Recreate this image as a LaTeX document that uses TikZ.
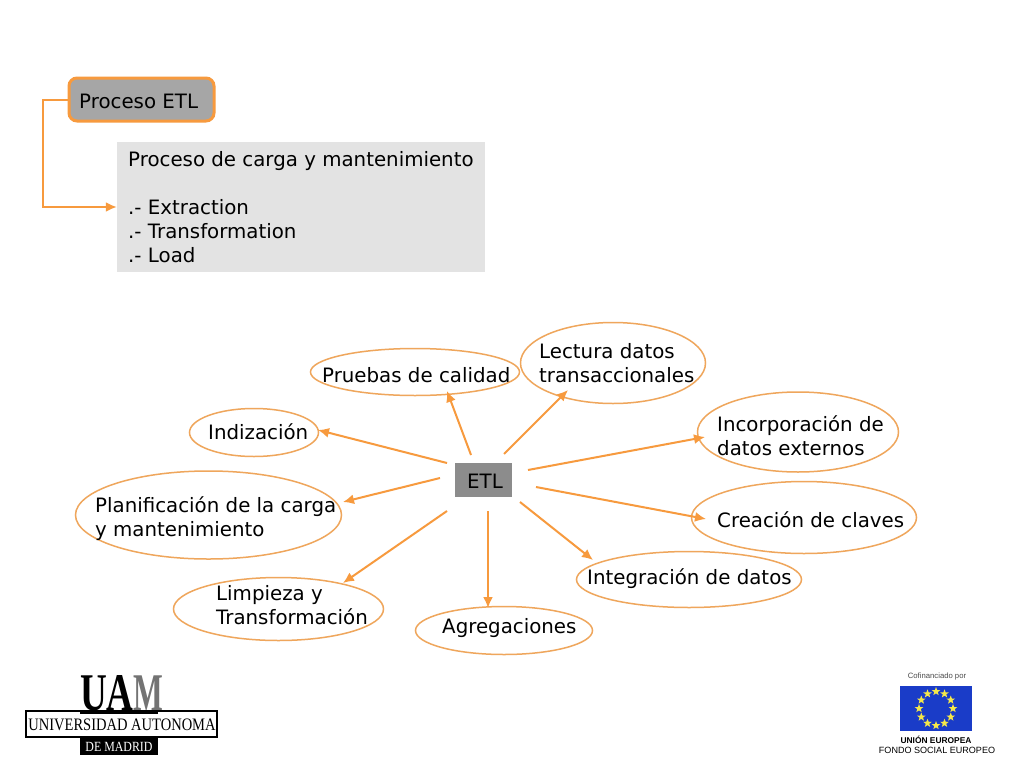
\documentclass[tikz,border=0pt]{standalone}
\usepackage{fontspec}
\setmainfont{DejaVu Sans}
\newfontfamily\logoserif{Liberation Serif}
\newfontfamily\logosans{Liberation Sans}
\usetikzlibrary{shapes.geometric,arrows.meta,calc}
\definecolor{orangeline}{HTML}{F79A3E}
\definecolor{ellipseline}{HTML}{EFA65C}
\definecolor{etlgray}{HTML}{8C8C8C}
\definecolor{procgray}{HTML}{A6A6A6}
\definecolor{detailgray}{HTML}{E3E3E3}
\definecolor{eublue}{HTML}{1A3CC8}
\definecolor{euyellow}{HTML}{F5E84A}
\newcommand{\fl}{\rule{0pt}{18pt}}
\tikzset{
  x=1pt,y=-1pt,
  bubble/.style={draw=ellipseline,line width=1.5pt,ellipse,inner sep=0pt,fill=none},
  lab/.style={font=\fontsize{19.8}{24}\selectfont,text=black,inner sep=0pt,anchor=base west},
  labm/.style={font=\fontsize{19.8}{24}\selectfont,text=black,inner sep=0pt,anchor=north west,align=left},
  conn/.style={draw=orangeline,line width=2pt,-{Latex[length=11pt,width=10pt]}},
  eustar/.style={star,star points=5,star point ratio=2.4,fill=euyellow,inner sep=0pt,minimum size=9pt},
}
\begin{document}
\begin{tikzpicture}
\useasboundingbox (0,0) rectangle (1024,768);
\fill[white] (0,0) rectangle (1024,768);
% top boxes
\node[draw=orangeline,line width=3pt,fill=procgray,rounded corners=8pt,minimum width=145pt,minimum height=43pt,inner sep=0pt] (proc) at (141.5,99.5) {};
\node[lab] (proclab) at (79,108) {Proceso ETL};
\node[fill=detailgray,minimum width=368pt,minimum height=130pt,inner sep=0pt] (detail) at (301,207) {};
\node[labm] (detaillab) at (128,148.7) {\fl Proceso de carga y mantenimiento\\[0pt] \\ .- Extraction\\ .- Transformation\\ .- Load};
\draw[conn] (proc.west) -- ++(-25,0) |- (detail.west);
% centre
\node[fill=etlgray,minimum width=57pt,minimum height=34pt,inner sep=0pt] (etl) at (483.5,480) {};
\node[lab] (etllab) at (467,488) {ETL};
% ellipses
\node[bubble,minimum width=209pt,minimum height=47pt] (pruebas) at (415,372) {};
\node[bubble,minimum width=185pt,minimum height=81pt] (lectura) at (613,363) {};
\node[bubble,minimum width=201pt,minimum height=80pt] (incorp) at (798,432) {};
\node[bubble,minimum width=225pt,minimum height=72pt] (creacion) at (804,517.5) {};
\node[bubble,minimum width=225pt,minimum height=56pt] (integ) at (689,579.5) {};
\node[bubble,minimum width=177pt,minimum height=48pt] (agreg) at (504,630.5) {};
\node[bubble,minimum width=210pt,minimum height=63pt] (limp) at (278.5,609) {};
\node[bubble,minimum width=266pt,minimum height=88pt] (plan) at (208.5,515) {};
\node[bubble,minimum width=129pt,minimum height=48pt] (indiz) at (254,432.5) {};
% labels
\node[lab] (pruebaslab) at (322,382.7) {Pruebas de calidad};
\node[labm] (lecturalab) at (539,340.7) {\fl Lectura datos\\ transaccionales};
\node[labm] (incorplab) at (717,413.7) {\fl Incorporación de\\ datos externos};
\node[lab] (creacionlab) at (717,527.7) {Creación de claves};
\node[lab] (integlab) at (587,584.7) {Integración de datos};
\node[lab] (agreglab) at (442,633.7) {Agregaciones};
\node[labm] (limplab) at (216,582.7) {\fl Limpieza y\\ Transformación};
\node[labm] (planlab) at (95,494.7) {\fl Planificación de la carga\\ y mantenimiento};
\node[lab] (indizlab) at (208,439) {Indización};
% connectors
\draw[conn] ($(etl)+(-12.5,-25)$) -- ($(pruebas)+(32,19)$);
\draw[conn] ($(etl)+(20.5,-26)$) -- ($(lectura)+(-45,27)$);
\draw[conn] ($(etl)+(44.5,-10)$) -- ($(incorp)+(-93,5)$);
\draw[conn] ($(etl)+(52.5,7)$) -- ($(creacion)+(-98,1.5)$);
\draw[conn] ($(etl)+(36.5,22)$) -- ($(integ)+(-96,-19.5)$);
\draw[conn] ($(etl)+(4.5,31)$) -- ($(agreg)+(-16,-22.5)$);
\draw[conn] ($(etl)+(-36.5,31)$) -- ($(limp)+(64.5,-26)$);
\draw[conn] ($(etl)+(-43.5,-2)$) -- ($(plan)+(134.5,-13)$);
\draw[conn] ($(etl)+(-36.5,-17)$) -- ($(indiz)+(64,-2.5)$);
% UAM logo
\node[font=\logoserif\bfseries\fontsize{53}{53}\selectfont,inner sep=0pt,anchor=base west,xscale=0.7] (uam) at (80,710) {UA{\color{black!55}\scalebox{0.85}[1]{M}}};
\node[draw=black,line width=1.2pt,minimum width=191pt,minimum height=26pt,inner sep=0pt] (uni) at (121.5,724) {};
\draw[black,line width=3pt] (80,712.5) -- (158,712.5);
\node[font=\logoserif\fontsize{17.5}{18}\selectfont,inner sep=0pt,xscale=0.83] (unilab) at (122,725) {UNIVERSIDAD AUTONOMA};
\node[fill=black,minimum width=78pt,minimum height=18pt,inner sep=0pt] (madrid) at (119,746) {};
\node[font=\logoserif\fontsize{14}{14}\selectfont,text=white,inner sep=0pt,xscale=0.85] (madridlab) at (119,746.5) {DE MADRID};
% EU logo
\node[font=\logosans\fontsize{7.7}{8}\selectfont,text=black!70,inner sep=0pt] (cof) at (937,676.5) {Cofinanciado por};
\node[fill=eublue,minimum width=72pt,minimum height=45pt,inner sep=0pt] (flag) at (936,708.5) {};
\foreach \i in {1,...,12} {
  \node[eustar,name=star\i] at ($(flag)+({\i*30}:17)$) {};
}
\node[font=\logosans\bfseries\fontsize{8.4}{9}\selectfont,inner sep=0pt] (ue) at (936,740) {UNIÓN EUROPEA};
\node[font=\logosans\fontsize{9.05}{10}\selectfont,inner sep=0pt] (fse) at (937,750) {FONDO SOCIAL EUROPEO};
\end{tikzpicture}
\end{document}
